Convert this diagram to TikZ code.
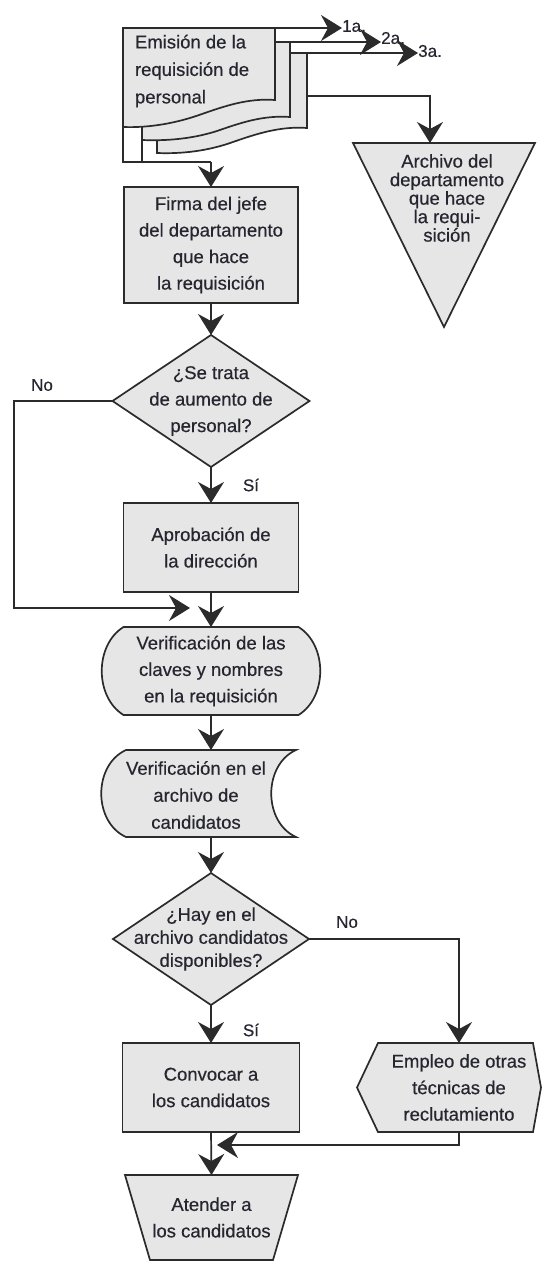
\documentclass[tikz,border=0pt]{standalone}
\usepackage{fontspec}
\setmainfont[FakeBold=0.45]{Liberation Sans}
\usetikzlibrary{arrows.meta,backgrounds}

\definecolor{ink}{HTML}{2B2B2B}
\definecolor{boxfill}{HTML}{E6E6E6}
\definecolor{txtcol}{HTML}{262630}

\begin{document}
\begin{tikzpicture}[x=1pt,y=-1pt,
  shapeline/.style={draw=ink, fill=boxfill, line width=1.7pt, line join=miter},
  body/.style={font=\fontsize{18.5}{26.5}\selectfont, text=txtcol, align=center,
    inner sep=0pt, outer sep=0pt},
  boxnode/.style={body, draw=ink, fill=boxfill, line width=1.7pt},
  tag/.style={font=\fontsize{17}{20}\selectfont, text=txtcol, inner sep=0pt},
  wire/.style={draw=ink, line width=1.7pt},
  flow/.style={wire, -{Stealth[length=21pt,width=26pt,inset=7pt]}},
]
\useasboundingbox (0,0) rectangle (545,1261);

% --- stack of three copies of the requisition (back to front)
\draw[shapeline] (157,153) -- (157,53) -- (307,53) -- (307,128)
  .. controls (280,126) and (256,134) .. (233,142)
  .. controls (208,151) and (182,154) .. (157,153) -- cycle;
\draw[shapeline] (142,140) -- (142,42) -- (290,42) -- (290,117)
  .. controls (263,115) and (240,123) .. (217,131)
  .. controls (192,139) and (166,141) .. (142,140) -- cycle;
\draw[shapeline] (123,127) -- (123,28) -- (275,28) -- (275,100)
  .. controls (248,98) and (225,106) .. (202,114)
  .. controls (177,123) and (150,128) .. (123,127) -- cycle;
\node[body, anchor=west, align=left, font=\fontsize{18.5}{27.5}\selectfont]
  (emision) at (135,71) {Emisión de la\\requisición de\\personal};

\coordinate (d1tr) at (275,28);
\coordinate (d2tr) at (290,42);
\coordinate (d3tr) at (307,53);
\coordinate (d3r)  at (307,96);
\coordinate (d1bl) at (123,127);
\coordinate (d2bl) at (142,140);
\coordinate (join) at (211,162);

% copies sent out
\node[tag, anchor=west] (t1) at (342,26) {1a.};
\node[tag, anchor=west] (t2) at (381,38) {2a.};
\node[tag, anchor=west] (t3) at (418,51) {3a.};
\draw[flow] (d1tr) -- (t1.west |- d1tr);
\draw[flow] (d2tr) -- (t2.west |- d2tr);
\draw[flow] (d3tr) -- (t3.west |- d3tr);

% --- department file (triangle)
\node[body, minimum width=182pt, minimum height=184pt] (arch) at (444,235) {};
\draw[shapeline] (353,143) -- (535,143) -- (444,327) -- cycle;
\node[body, font=\fontsize{18.5}{18.5}\selectfont] (archtxt) at (447,198)
  {Archivo del\\departamento\\que hace\\la requi-\\sición};
\draw[flow] (d3r) -| ([xshift=-14pt]arch.north);

% --- signature
\node[boxnode, minimum width=174pt, minimum height=116pt] (firma) at (211,245)
  {Firma del jefe\\del departamento\\que hace\\la requisición};
\draw[wire] (d1bl) -- (d1bl |- join) -- (join);
\draw[wire] (d2bl) -- (d2bl |- join);
\draw[flow] (join) -- (firma.north);

% --- first decision
\node[body, minimum width=197pt, minimum height=132pt] (q1) at (211,401)
  {¿Se trata\\de aumento de\\personal?};
\begin{scope}[on background layer]
  \draw[shapeline] (q1.north) -- (q1.east) -- (q1.south) -- (q1.west) -- cycle;
\end{scope}
\draw[flow] (firma.south) -- (q1.north);

\node[boxnode, minimum width=175pt, minimum height=89pt] (aprob) at (211,547.5)
  {Aprobación de\\la dirección};
\draw[flow] (q1.south) -- (aprob.north);
\node[tag] (si1) at (251,485) {Sí};

\coordinate (noturn) at (14,608);
\coordinate (merge1) at (190,608);
\draw[flow] (q1.west) -| (noturn) -- (merge1);
\node[tag] (no1) at (42,385) {No};

% --- check of codes and names
\node[body, minimum width=175pt, minimum height=88pt] (verif1) at (211,671)
  {Verificación de las\\claves y nombres\\en la requisición};
\begin{scope}[on background layer]
  \draw[shapeline] (123.5,627) -- (298.5,627)
    .. controls (327.5,645) and (327.5,697) .. (298.5,715) -- (123.5,715)
    .. controls (94.5,697) and (94.5,645) .. (123.5,627) -- cycle;
\end{scope}
\draw[flow] (aprob.south) -- (verif1.north);

% --- check in the candidates file
\node[body, minimum width=170pt, minimum height=87pt] (verif2) at (211,793.5) {};
\draw[shapeline] (126,750) -- (296,750)
  .. controls (263,765) and (263,822) .. (296,837) -- (126,837)
  .. controls (93,822) and (93,765) .. (126,750) -- cycle;
\node[body, font=\fontsize{18.5}{27}\selectfont] (verif2txt) at (196,795)
  {Verificación en el\\archivo de\\candidatos};
\draw[flow] (verif1.south) -- (verif2.north);

% --- second decision
\node[body, font=\fontsize{18.5}{23}\selectfont, minimum width=196pt,
  minimum height=132pt] (q2) at (211,939)
  {¿Hay en el\\archivo candidatos\\disponibles?};
\begin{scope}[on background layer]
  \draw[shapeline] (q2.north) -- (q2.east) -- (q2.south) -- (q2.west) -- cycle;
\end{scope}
\draw[flow] (verif2.south) -- (q2.north);

% --- other recruiting techniques
\node[body, minimum width=150pt, minimum height=89pt] (emp) at (459,1087.5)
  {Empleo de otras\\técnicas de\\reclutamiento};
\begin{scope}[on background layer]
  \draw[shapeline] (357,1087.5) -- (378,1043) -- (533,1043) -- (541,1087.5)
    -- (533,1132) -- (378,1132) -- cycle;
\end{scope}
\draw[flow] (q2.east) -| (emp.north);
\node[tag] (no2) at (347,922) {No};

% --- call the candidates
\node[boxnode, minimum width=177pt, minimum height=89pt] (conv) at (211,1087.5)
  {Convocar a\\los candidatos};
\draw[flow] (q2.south) -- (conv.north);
\node[tag] (si2) at (251,1030) {Sí};

% --- attend the candidates
\node[body, minimum width=173pt, minimum height=85pt] (aten) at (211.5,1217.5)
  {Atender a\\los candidatos};
\begin{scope}[on background layer]
  \draw[shapeline] (125,1175) -- (298,1175) -- (273,1260) -- (150,1260) -- cycle;
\end{scope}
\draw[flow] (conv.south) -- (aten.north);

\coordinate (merge2) at (217,1145);
\draw[flow] (emp.south) |- (merge2);

\end{tikzpicture}
\end{document}
